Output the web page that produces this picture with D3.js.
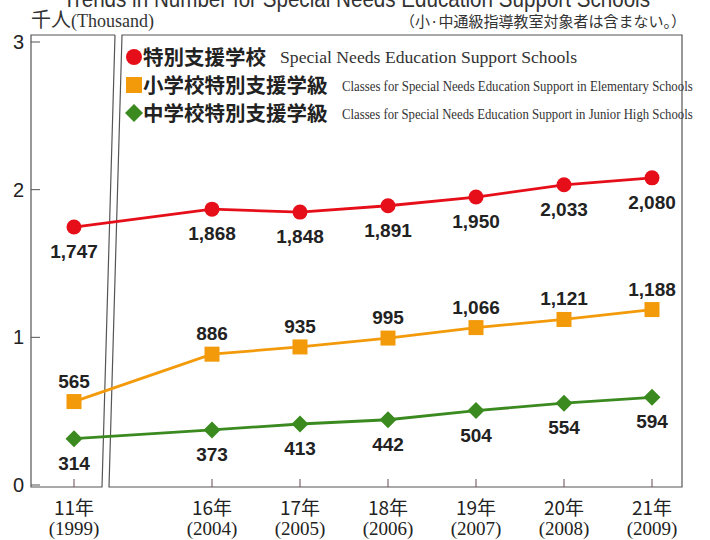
<!DOCTYPE html>
<html>
<head>
<meta charset="utf-8">
<script src="https://cdn.jsdelivr.net/npm/d3@7"></script>
<style>
body { margin: 0; background: #fff; }
svg { display: block; }
</style>
</head>
<body>
<svg width="710" height="540"></svg>
<script>
var years = [1999, 2004, 2005, 2006, 2007, 2008, 2009];
var yearLabels = ["11年", "16年", "17年", "18年", "19年", "20年", "21年"];
var schools = [1747, 1868, 1848, 1891, 1950, 2033, 2080];
var elementary = [565, 886, 935, 995, 1066, 1121, 1188];
var junior = [314, 373, 413, 442, 504, 554, 594];
var yTicks = [0, 1, 2, 3];

var series = [
	{ name: "特別支援学校", en: "Special Needs Education Support Schools", values: schools, color: "#e60f19", shape: "circle", dy: 31 },
	{ name: "小学校特別支援学級", en: "Classes for Special Needs Education Support in Elementary Schools", values: elementary, color: "#f39a0a", shape: "square", dy: -14 },
	{ name: "中学校特別支援学級", en: "Classes for Special Needs Education Support in Junior High Schools", values: junior, color: "#3b8a20", shape: "diamond", dy: 31 }
];

var svg = d3.select("svg");
var sans = "Liberation Sans, Arial, sans-serif",
	serif = "Liberation Serif, Times New Roman, serif",
	cjk = "Noto Sans CJK JP, sans-serif";

// broken axis: 1999 sits alone in the left panel
var x = d3.scaleLinear()
	.domain([1999, 2004, 2009])
	.range([74, 212, 652]);
var y = d3.scaleLinear()
	.domain([0, 3])
	.range([485, 42]);

var frameTop = 35, frameBottom = 487;

// frames
var frame = svg.append("g").attr("fill", "none").attr("stroke", "#555").attr("stroke-width", 1.2);
frame.append("path").attr("d", "M115," + frameTop + "H31V" + frameBottom + "H102L115," + frameTop);
frame.append("path").attr("d", "M122," + frameTop + "H682V" + frameBottom + "H109Z");

// y ticks
var yt = svg.append("g");
yt.selectAll("line").data(yTicks).join("line")
	.attr("x1", 31).attr("x2", 40)
	.attr("y1", function(d) { return y(d); })
	.attr("y2", function(d) { return y(d); })
	.attr("stroke", "#555");
yt.selectAll("text").data(yTicks).join("text")
	.attr("x", 24)
	.attr("y", function(d) { return y(d) + 7; })
	.attr("text-anchor", "end")
	.attr("font-family", sans)
	.attr("font-size", 20)
	.attr("fill", "#222")
	.text(function(d) { return d; });

// x ticks and labels
var xt = svg.append("g");
xt.selectAll("line").data(years).join("line")
	.attr("x1", function(d) { return x(d); })
	.attr("x2", function(d) { return x(d); })
	.attr("y1", frameBottom).attr("y2", frameBottom - 8)
	.attr("stroke", "#6b4a55");
xt.selectAll("text.yr").data(years).join("text")
	.attr("class", "yr")
	.attr("x", function(d) { return x(d); })
	.attr("y", 515)
	.attr("text-anchor", "middle")
	.attr("font-family", cjk)
	.attr("font-size", 19)
	.attr("fill", "#222")
	.text(function(d, i) { return yearLabels[i]; });
xt.selectAll("text.ad").data(years).join("text")
	.attr("class", "ad")
	.attr("x", function(d) { return x(d); })
	.attr("y", 535)
	.attr("text-anchor", "middle")
	.attr("font-family", serif)
	.attr("font-size", 19)
	.attr("fill", "#222")
	.text(function(d) { return "(" + d + ")"; });

// lines, markers, labels
var line = d3.line()
	.x(function(d, i) { return x(years[i]); })
	.y(function(d) { return y(d / 1000); });

function marker(sel, shape, color, size) {
	if (shape == "circle") {
		sel.append("circle").attr("r", size / 2).attr("fill", color);
	} else if (shape == "square") {
		sel.append("rect").attr("x", -size / 2).attr("y", -size / 2)
			.attr("width", size).attr("height", size).attr("fill", color);
	} else {
		var h = size / 2 + 1;
		sel.append("path").attr("d", "M0," + (-h) + "L" + h + ",0L0," + h + "L" + (-h) + ",0Z").attr("fill", color);
	}
}

series.forEach(function(s) {
	var g = svg.append("g");
	g.append("path")
		.datum(s.values)
		.attr("d", line)
		.attr("fill", "none")
		.attr("stroke", s.color)
		.attr("stroke-width", 2.8);
	g.selectAll("g.pt").data(s.values).join("g")
		.attr("class", "pt")
		.attr("transform", function(d, i) { return "translate(" + x(years[i]) + "," + y(d / 1000) + ")"; })
		.each(function() { marker(d3.select(this), s.shape, s.color, 15); });
	g.selectAll("text").data(s.values).join("text")
		.attr("x", function(d, i) { return x(years[i]); })
		.attr("y", function(d) { return y(d / 1000) + s.dy; })
		.attr("text-anchor", "middle")
		.attr("font-family", sans)
		.attr("font-weight", "bold")
		.attr("font-size", 19)
		.attr("fill", "#222")
		.text(function(d) { return d3.format(",")(d); });
});

// legend
var leg = svg.append("g");
var legY = [57, 85, 113];
series.forEach(function(s, i) {
	var row = leg.append("g").attr("transform", "translate(0," + legY[i] + ")");
	marker(row.append("g").attr("transform", "translate(134,0)"), s.shape, s.color, 16);
	row.append("text")
		.attr("x", 143).attr("y", 8)
		.attr("font-family", cjk)
		.attr("font-weight", "bold")
		.attr("font-size", 20.5)
		.attr("fill", "#222")
		.text(s.name);
	var ex = i == 0 ? 280 : 342;
	var w = i == 0 ? 297 : 351;
	// condensed serif: squeeze horizontally
	var en = row.append("text")
		.attr("transform", "translate(" + ex + ",6) scale(" + (i == 0 ? 0.95 : 0.8) + ",1)")
		.attr("font-family", serif)
		.attr("font-size", i == 0 ? 16 : 15)
		.attr("fill", "#333")
		.text(s.en);
	var nat = en.node().getComputedTextLength();
	en.attr("transform", "translate(" + ex + ",6) scale(" + (w / nat) + ",1)");
});

// title (cut off at the top edge) and notes
svg.append("text")
	.attr("x", 63).attr("y", 7)
	.attr("font-family", sans)
	.attr("font-size", 24)
	.attr("fill", "#333")
	.attr("textLength", 587)
	.attr("lengthAdjust", "spacingAndGlyphs")
	.text("Trends in Number for Special Needs Education Support Schools");

var unit = svg.append("text").attr("x", 31).attr("y", 27).attr("fill", "#333");
unit.append("tspan").attr("font-family", cjk).attr("font-size", 20).text("千人");
unit.append("tspan").attr("font-family", serif).attr("font-size", 18).text("(Thousand)");

svg.append("text")
	.attr("x", 686).attr("y", 27)
	.attr("text-anchor", "end")
	.attr("font-family", cjk)
	.attr("font-size", 15)
	.attr("fill", "#333")
	.text("（小·中通級指導教室対象者は含まない。）");
</script>
</body>
</html>
